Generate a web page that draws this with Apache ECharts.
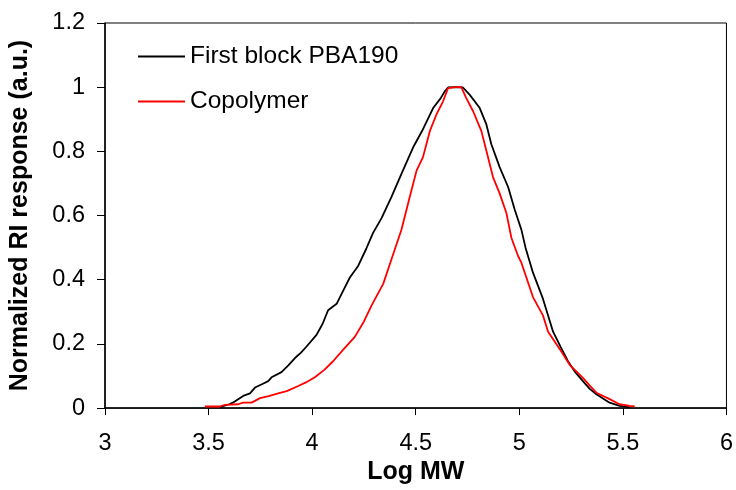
<!DOCTYPE html>
<html>
<head>
<meta charset="utf-8">
<script src="https://cdn.jsdelivr.net/npm/echarts@6/dist/echarts.min.js"></script>
<style>html,body{margin:0;padding:0;background:#fff}#c{width:736px;height:490px}</style>
</head>
<body>
<div id="c"></div>
<script>
const xTicks = [3, 3.5, 4, 4.5, 5, 5.5, 6];
const yTicks = [0, 0.2, 0.4, 0.6, 0.8, 1, 1.2];
const seriesNames = ['First block PBA190', 'Copolymer'];

const xBlack = [3.555,3.600,3.617,3.667,3.700,3.724,3.760,3.788,3.804,3.852,3.885,3.917,3.945,3.973,4.021,4.050,4.077,4.118,4.150,4.182,4.222,4.260,4.294,4.335,4.383,4.431,4.487,4.535,4.584,4.620,4.640,4.656,4.690,4.728,4.761,4.809,4.841,4.865,4.905,4.946,4.978,5.010,5.030,5.066,5.114,5.163,5.200,5.235,5.270,5.307,5.340,5.372,5.436,5.484,5.533];
const yBlack = [0.003,0.012,0.017,0.038,0.046,0.064,0.075,0.084,0.096,0.112,0.133,0.156,0.172,0.192,0.228,0.262,0.305,0.325,0.366,0.407,0.443,0.495,0.546,0.592,0.658,0.730,0.812,0.869,0.935,0.965,0.987,0.999,1.000,0.999,0.976,0.935,0.884,0.822,0.751,0.689,0.618,0.556,0.500,0.422,0.341,0.238,0.190,0.146,0.112,0.084,0.060,0.043,0.017,0.007,0.002];

const xRed = [3.482,3.555,3.579,3.643,3.667,3.708,3.748,3.790,3.836,3.877,3.933,3.970,4.013,4.060,4.101,4.150,4.206,4.250,4.287,4.343,4.383,4.431,4.471,4.504,4.535,4.568,4.600,4.632,4.656,4.690,4.720,4.744,4.777,4.817,4.841,4.873,4.905,4.938,4.962,4.994,5.010,5.066,5.114,5.139,5.203,5.243,5.307,5.340,5.372,5.436,5.484,5.533,5.557];
const yRed = [0.005,0.005,0.010,0.012,0.017,0.017,0.031,0.037,0.046,0.053,0.069,0.080,0.096,0.120,0.146,0.182,0.222,0.270,0.320,0.387,0.464,0.556,0.658,0.740,0.782,0.863,0.915,0.956,0.997,1.000,1.000,0.966,0.925,0.863,0.802,0.720,0.669,0.607,0.530,0.474,0.453,0.346,0.289,0.238,0.176,0.135,0.094,0.070,0.048,0.028,0.012,0.007,0.005];

const font = '"Liberation Sans", Arial, sans-serif';
const pair = (xs, ys) => xs.map((x, i) => [x, ys[i]]);
const lineIcon = 'path://M0,0H47V2H0Z';

const chart = echarts.init(document.getElementById('c'), null, {renderer: 'canvas'});
chart.setOption({
  animation: false,
  backgroundColor: '#fff',
  grid: {left: 105, right: 9, top: 23, bottom: 76, show: true, borderColor: '#000', borderWidth: 1, containLabel: false},
  legend: {
    orient: 'vertical', left: 138, top: 44, padding: 0, itemWidth: 47, itemHeight: 2, itemGap: 20,
    textStyle: {fontFamily: font, fontSize: 24.5, color: '#000'},
    data: [{name: seriesNames[0], icon: lineIcon}, {name: seriesNames[1], icon: lineIcon}]
  },
  xAxis: {
    type: 'value', min: xTicks[0], max: xTicks[xTicks.length-1], interval: 0.5,
    name: 'Log MW', nameLocation: 'middle', nameGap: 49,
    nameTextStyle: {fontFamily: font, fontSize: 25, fontWeight: 'bold', color: '#000'},
    axisLine: {show: true, lineStyle: {color: '#000', width: 1.5}},
    axisTick: {show: true, length: 7, lineStyle: {color: '#000', width: 1}},
    axisLabel: {fontFamily: font, fontSize: 23.5, color: '#000', margin: 23},
    splitLine: {show: false}
  },
  yAxis: {
    type: 'value', min: yTicks[0], max: yTicks[yTicks.length-1], interval: 0.2,
    name: 'Normalized RI response (a.u.)', nameLocation: 'middle', nameGap: 72,
    nameTextStyle: {fontFamily: font, fontSize: 25, fontWeight: 'bold', color: '#000'},
    axisLine: {show: true, lineStyle: {color: '#000', width: 1.5}},
    axisTick: {show: true, length: 8, lineStyle: {color: '#000', width: 1}},
    axisLabel: {fontFamily: font, fontSize: 23.5, color: '#000', margin: 20,
      formatter: v => String(Math.round(v*10)/10)},
    splitLine: {show: false}
  },
  series: [
    {name: seriesNames[0], type: 'line', data: pair(xBlack, yBlack), showSymbol: false, symbol: 'none',
     lineStyle: {color: '#000', width: 1.8}, itemStyle: {color: '#000'}},
    {name: seriesNames[1], type: 'line', data: pair(xRed, yRed), showSymbol: false, symbol: 'none',
     lineStyle: {color: '#ff0000', width: 1.8}, itemStyle: {color: '#ff0000'}}
  ]
});
</script>
</body>
</html>
